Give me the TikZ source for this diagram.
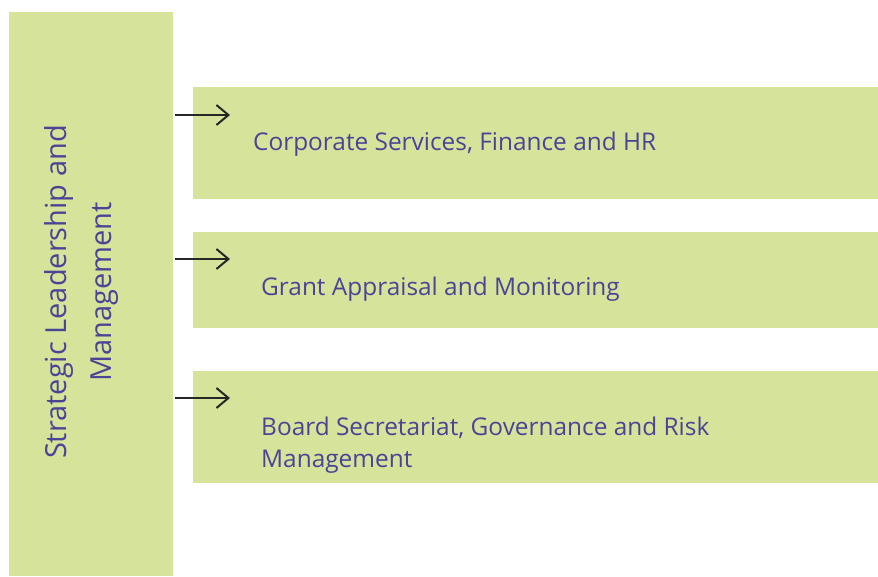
\documentclass[tikz,border=0pt]{standalone}
\usepackage{fontspec}
\setmainfont{Open Sans}
\usetikzlibrary{arrows.meta}
\definecolor{boxgreen}{RGB}{213,227,155}
\definecolor{txtblue}{RGB}{75,68,150}
\begin{document}
\begin{tikzpicture}[x=1pt,y=-1pt,
  gbox/.style={fill=boxgreen,draw=none},
  lbl/.style={text=txtblue,font=\fontsize{24.4}{32}\selectfont,anchor=base west,inner sep=0pt,align=left},
  arr/.style={-{Straight Barb[length=12pt,width=20pt,line width=2pt]},line width=2pt,black!85}]
\useasboundingbox (0,0) rectangle (878,576);
\fill[gbox] (9,12) rectangle (173,576);
\fill[gbox] (193,87) rectangle (878,199);
\fill[gbox] (193,232) rectangle (878,328);
\fill[gbox] (193,371) rectangle (878,483);
\node[text=txtblue,font=\fontsize{29}{45}\selectfont,rotate=90,align=center,inner sep=0pt] (lead) at (81,292) {Strategic Leadership and\\Management};
\node[lbl] (t1) at (253,150) {Corporate Services, Finance and HR};
\node[lbl] (t2) at (261,295) {Grant Appraisal and Monitoring};
\node[lbl] (t3) at (261,467) {Board Secretariat, Governance and Risk\\Management};
\coordinate (a1s) at (175,115); \coordinate (a1e) at (230,115);
\coordinate (a2s) at (175,259); \coordinate (a2e) at (230,259);
\coordinate (a3s) at (175,398); \coordinate (a3e) at (230,398);
\draw[arr] (a1s) -- (a1e);
\draw[arr] (a2s) -- (a2e);
\draw[arr] (a3s) -- (a3e);
\end{tikzpicture}
\end{document}
